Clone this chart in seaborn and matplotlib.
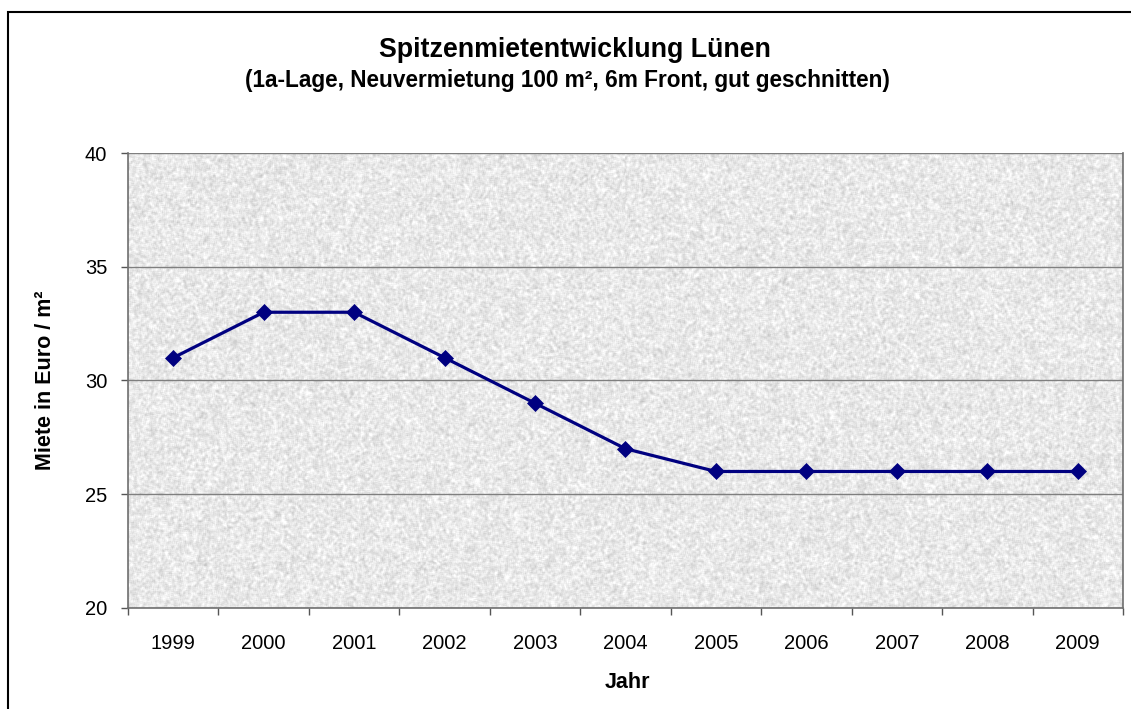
import numpy as np
import pandas as pd
import matplotlib
matplotlib.use("Agg")
import matplotlib.pyplot as plt
import matplotlib.patches as mpatches
import seaborn as sns

# Daten aus dem Diagramm
jahre = [1999, 2000, 2001, 2002, 2003, 2004, 2005, 2006, 2007, 2008, 2009]
miete = [31, 33, 33, 31, 29, 27, 26, 26, 26, 26, 26]
y_ticks = [20, 25, 30, 35, 40]

titel = "Spitzenmietentwicklung Lünen"
untertitel = "(1a-Lage, Neuvermietung 100 m², 6m Front, gut geschnitten)"

df = pd.DataFrame({"Jahr": jahre, "Miete": miete})

sns.set_theme(style="white")
plt.rcParams["font.family"] = ["Liberation Sans", "DejaVu Sans"]
plt.rcParams["text.color"] = "black"
plt.rcParams["axes.labelcolor"] = "black"

fig = plt.figure(figsize=(11.31, 7.09), dpi=100)
ax = fig.add_axes([0.1132, 0.1425, 0.8797, 0.6417])

# Strukturierter hellgrauer Hintergrund (Excel-Textur nachempfunden)
rng = np.random.default_rng(3)
noise = rng.random((460, 1000))
k = np.ones(3) / 3
noise = np.apply_along_axis(lambda r: np.convolve(r, k, mode="same"), 1, noise)
noise = np.apply_along_axis(lambda c: np.convolve(c, k, mode="same"), 0, noise)
noise = (noise - noise.mean()) / noise.std()
textur = np.clip(0.91 + 0.035 * noise, 0, 1)
ax.imshow(textur, cmap="gray", vmin=0, vmax=1, aspect="auto",
          extent=[jahre[0] - 0.5, jahre[-1] + 0.5, 20, 40], zorder=0,
          interpolation="nearest")

for y in y_ticks[1:]:
    ax.axhline(y, color="#7f7f7f", lw=1.0, zorder=1)

sns.lineplot(data=df, x="Jahr", y="Miete", ax=ax, color="#000080", lw=2.3,
             marker="D", markersize=8.5, markeredgecolor="#000080",
             markeredgewidth=0.5, zorder=3)

ax.set_xlim(jahre[0] - 0.5, jahre[-1] + 0.5)
ax.set_ylim(20, 40)
ax.set_yticks(y_ticks)
ax.set_xticks(jahre)
ax.set_xticklabels([str(j) for j in jahre])
ax.set_xticks([j - 0.5 for j in jahre] + [jahre[-1] + 0.5], minor=True)
ax.tick_params(axis="x", which="major", length=0, pad=19, labelsize=14.5, colors="black")
ax.tick_params(axis="x", which="minor", length=5, width=1, color="#555555", direction="out", bottom=True)
ax.tick_params(axis="y", length=5, width=1, color="#555555", direction="out", left=True,
               labelsize=14.5, pad=10, colors="black")

for s in ["left", "bottom", "right"]:
    ax.spines[s].set_color("#6f6f6f")
    ax.spines[s].set_linewidth(1.2)
ax.spines["top"].set_visible(False)

ax.set_xlabel("")
ax.set_ylabel("")
fig.text(627 / 1131, 1 - 682 / 709, "Jahr", ha="center", va="center",
         fontsize=15.5, fontweight="bold")
fig.text(46 / 1131, 1 - 380 / 709, "Miete in Euro / m²", ha="center", va="center",
         rotation=90, fontsize=15.5, fontweight="bold")

fig.text(0.508, 1 - 50 / 709, titel, ha="center", va="center", fontsize=19.3, fontweight="bold")
fig.text(0.502, 1 - 80 / 709, untertitel, ha="center", va="center", fontsize=16.3, fontweight="bold")

# Rahmen um das Diagramm
fig.patches.append(mpatches.Rectangle((8 / 1131, -0.1), 1.2, (709 - 12) / 709 + 0.1,
                                      transform=fig.transFigure, fill=False,
                                      edgecolor="black", lw=1.5))

fig.savefig("out.png", dpi=100)
